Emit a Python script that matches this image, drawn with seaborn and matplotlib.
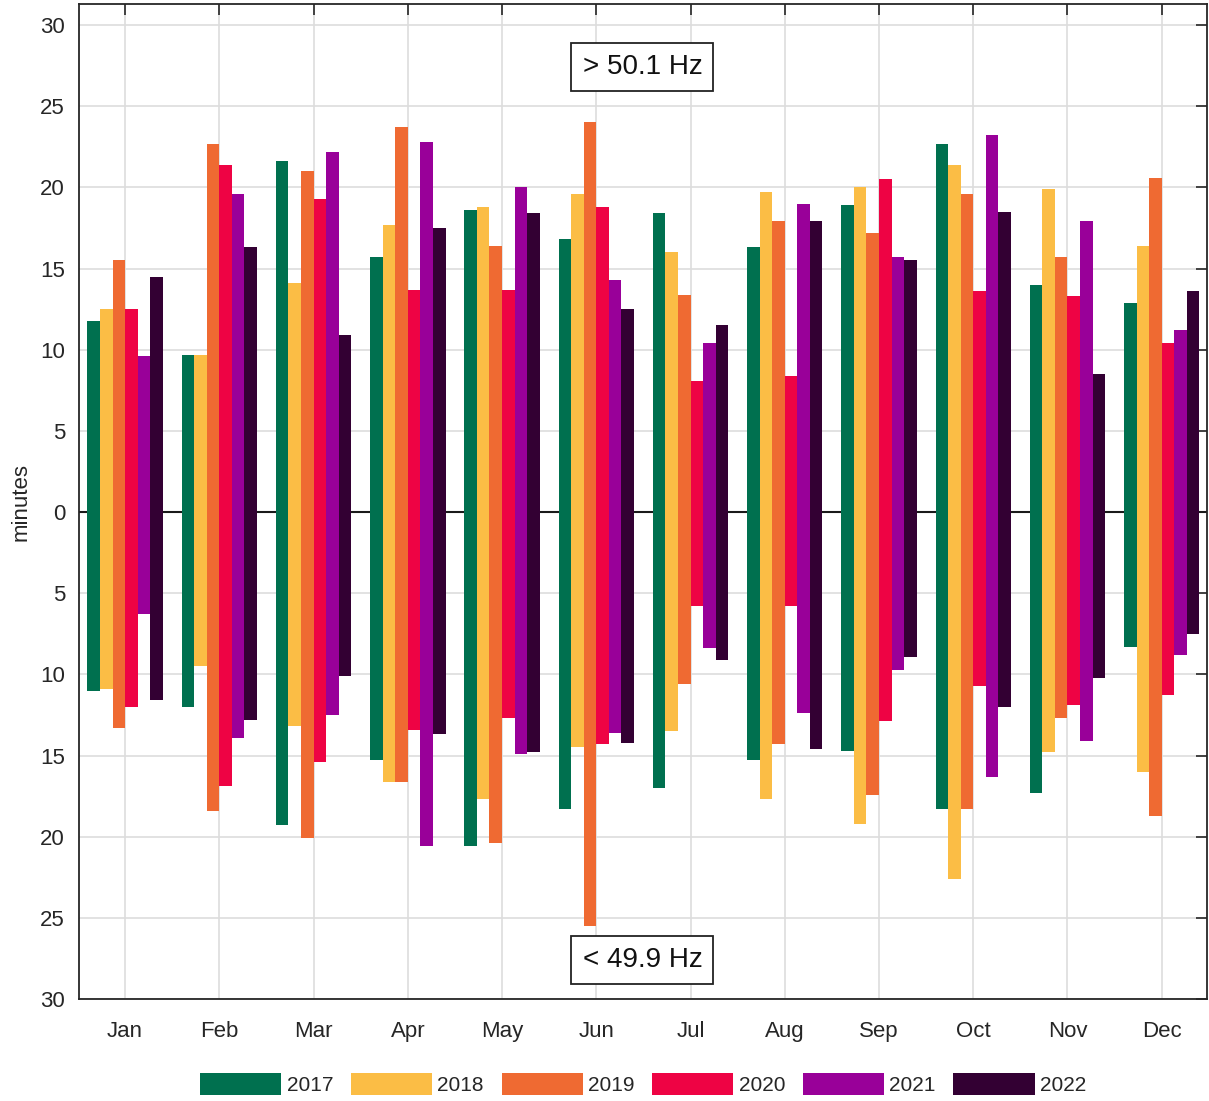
import pandas as pd
import matplotlib
matplotlib.use("Agg")
import matplotlib.pyplot as plt
from matplotlib.patches import Patch
from matplotlib.ticker import FixedLocator, FuncFormatter
import seaborn as sns

# Datos: minutos por mes y año (arriba: > 50.1 Hz, abajo: < 49.9 Hz)
months = ["Jan", "Feb", "Mar", "Apr", "May", "Jun",
          "Jul", "Aug", "Sep", "Oct", "Nov", "Dec"]
years = ["2017", "2018", "2019", "2020", "2021", "2022"]
colors = ["#00704f", "#fbbd45", "#ef6a32", "#ee0344", "#990099", "#330033"]

above = [
    [11.8, 9.7, 21.6, 15.7, 18.6, 16.8, 18.4, 16.3, 18.9, 22.7, 14.0, 12.9],   # 2017
    [12.5, 9.7, 14.1, 17.7, 18.8, 19.6, 16.0, 19.7, 20.0, 21.4, 19.9, 16.4],   # 2018
    [15.5, 22.7, 21.0, 23.7, 16.4, 24.0, 13.4, 17.9, 17.2, 19.6, 15.7, 20.6],  # 2019
    [12.5, 21.4, 19.3, 13.7, 13.7, 18.8, 8.1, 8.4, 20.5, 13.6, 13.3, 10.4],    # 2020
    [9.6, 19.6, 22.2, 22.8, 20.0, 14.3, 10.4, 19.0, 15.7, 23.2, 17.9, 11.2],   # 2021
    [14.5, 16.3, 10.9, 17.5, 18.4, 12.5, 11.5, 17.9, 15.5, 18.5, 8.5, 13.6],   # 2022
]
below = [
    [11.0, 12.0, 19.3, 15.3, 20.6, 18.3, 17.0, 15.3, 14.7, 18.3, 17.3, 8.3],   # 2017
    [10.9, 9.5, 13.2, 16.6, 17.7, 14.5, 13.5, 17.7, 19.2, 22.6, 14.8, 16.0],   # 2018
    [13.3, 18.4, 20.1, 16.6, 20.4, 25.5, 10.6, 14.3, 17.4, 18.3, 12.7, 18.7],  # 2019
    [12.0, 16.9, 15.4, 13.4, 12.7, 14.3, 5.8, 5.8, 12.9, 10.7, 11.9, 11.3],    # 2020
    [6.3, 13.9, 12.5, 20.6, 14.9, 13.6, 8.4, 12.4, 9.7, 16.3, 14.1, 8.8],      # 2021
    [11.6, 12.8, 10.1, 13.7, 14.8, 14.2, 9.1, 14.6, 8.9, 12.0, 10.2, 7.5],     # 2022
]


def to_long(values, sign):
    rows = []
    for y, serie in zip(years, values):
        for m, v in zip(months, serie):
            rows.append({"month": m, "year": y, "minutes": sign * v})
    return pd.DataFrame(rows)


df_up = to_long(above, 1)
df_down = to_long(below, -1)

sns.set_style("white")
plt.rcParams["font.family"] = ["Liberation Sans", "DejaVu Sans"]

fig = plt.figure(figsize=(12.09, 11.01), dpi=100)
ax = fig.add_axes([0.0653, 0.0926, 0.9330, 0.9038])

for d in (df_up, df_down):
    sns.barplot(data=d, x="month", y="minutes", hue="year", order=months,
                hue_order=years, palette=colors, saturation=1, width=0.8,
                errorbar=None, legend=False, linewidth=0, ax=ax)

ax.axhline(0, color="#1a1a1a", lw=1.5, zorder=0.9)

ax.set_xlim(-0.49, 11.48)
ax.set_ylim(-30, 31.3)
ax.yaxis.set_major_locator(FixedLocator(range(-30, 31, 5)))
ax.yaxis.set_major_formatter(FuncFormatter(lambda v, p: f"{abs(int(v))}"))

ax.set_axisbelow(True)
ax.grid(True, color="#dddddd", lw=1.2)
ax.set_xlabel("")
ax.set_ylabel("minutes", fontsize=16, color="#262626", labelpad=6)

ax.tick_params(axis="both", direction="in", length=8, width=1.2,
               labelsize=16, colors="#262626", top=True, right=True)
ax.tick_params(axis="x", pad=16)
ax.tick_params(axis="y", pad=10)
for s in ax.spines.values():
    s.set_color("#262626")
    s.set_linewidth(1.3)

box = dict(boxstyle="square,pad=0.4", fc="white", ec="#222222", lw=1.3)
ax.text(5.49, 27.4, "> 50.1 Hz", ha="center", va="center", fontsize=20,
        color="#111111", bbox=box)
ax.text(5.49, -27.6, "< 49.9 Hz", ha="center", va="center", fontsize=20,
        color="#111111", bbox=box)

handles = [Patch(facecolor=c, edgecolor="none", label=y) for c, y in zip(colors, years)]
fig.legend(handles=handles, loc="lower center", bbox_to_anchor=(0.532, -0.012),
           ncol=6, frameon=False, fontsize=15, handlelength=3.9, handleheight=1.3,
           handletextpad=0.25, columnspacing=0.85)

fig.savefig("out.png", dpi=100)
